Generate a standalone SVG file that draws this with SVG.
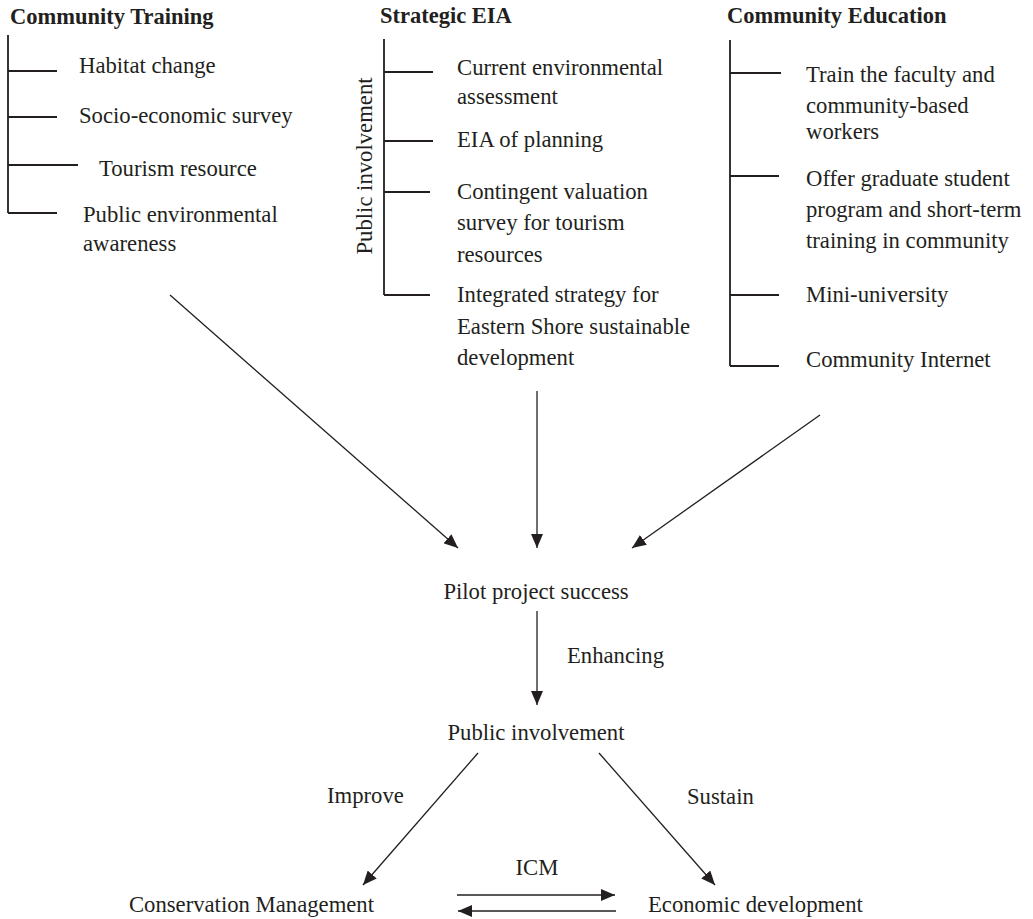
<svg xmlns="http://www.w3.org/2000/svg" width="1033" height="919" viewBox="0 0 1033 919">
<defs>
<style>
text{font-family:"Liberation Serif","Times New Roman",serif;font-size:22.7px;fill:#231f20}
.title{font-weight:bold;font-size:22.5px}
.tree{stroke:#231f20;stroke-width:1.8;fill:none}
.conn{stroke:#231f20;stroke-width:1.3;fill:none;marker-end:url(#arrow)}
.mid{text-anchor:middle}
</style>
<marker id="arrow" markerUnits="userSpaceOnUse" markerWidth="15" markerHeight="12" refX="14" refY="6" orient="auto" viewBox="0 0 15 12">
<path d="M0,0 L14,6 L0,12 z" fill="#231f20"/>
</marker>
</defs>
<rect width="1033" height="919" fill="#ffffff"/>

<g id="community-training">
<text class="title" x="10" y="24">Community Training</text>
<path class="tree" d="M8,35 V213 M8,71 H57 M8,117 H57 M8,165 H78 M8,213 H57"/>
<text x="79" y="73">Habitat change</text>
<text x="79" y="123">Socio-economic survey</text>
<text x="99" y="176">Tourism resource</text>
<text x="83" y="222">Public environmental</text>
<text x="83" y="251">awareness</text>
</g>

<g id="strategic-eia">
<text class="title" x="380" y="23">Strategic EIA</text>
<text class="mid" transform="translate(372,166) rotate(-90)">Public involvement</text>
<path class="tree" d="M384,39 V295 M384,72 H433 M384,141 H433 M384,192 H430 M384,295 H430"/>
<text x="457" y="75">Current environmental</text>
<text x="457" y="104">assessment</text>
<text x="457" y="147">EIA of planning</text>
<text x="457" y="199">Contingent valuation</text>
<text x="457" y="230">survey for tourism</text>
<text x="457" y="262">resources</text>
<text x="457" y="302">Integrated strategy for</text>
<text x="457" y="334">Eastern Shore sustainable</text>
<text x="457" y="365">development</text>
</g>

<g id="community-education">
<text class="title" x="727" y="23">Community Education</text>
<path class="tree" d="M730,40 V366 M730,73 H781 M730,176 H779 M730,295 H779 M730,366 H779"/>
<text x="806" y="82">Train the faculty and</text>
<text x="806" y="113">community-based</text>
<text x="806" y="139">workers</text>
<text x="806" y="186">Offer graduate student</text>
<text x="806" y="217">program and short-term</text>
<text x="806" y="248">training in community</text>
<text x="806" y="302">Mini-university</text>
<text x="806" y="367">Community Internet</text>
</g>

<g id="pilot-project-success">
<text class="mid" x="536" y="599">Pilot project success</text>
</g>

<g id="public-involvement">
<text class="mid" x="536" y="740">Public involvement</text>
</g>

<g id="conservation-management">
<text x="374" y="912" text-anchor="end">Conservation Management</text>
</g>

<g id="economic-development">
<text x="648" y="912">Economic development</text>
</g>

<g id="connectors">
<line class="conn" x1="170" y1="295" x2="458" y2="548"/>
<line class="conn" x1="537" y1="391" x2="537" y2="548"/>
<line class="conn" x1="820" y1="415" x2="632" y2="548"/>
<line class="conn" x1="537" y1="611" x2="537" y2="705"/>
<line class="conn" x1="478" y1="753" x2="363" y2="885"/>
<line class="conn" x1="599" y1="753" x2="715" y2="885"/>
<line class="conn" x1="457" y1="895" x2="615" y2="895"/>
<line class="conn" x1="616" y1="911" x2="458" y2="911"/>
<text x="567" y="663">Enhancing</text>
<text x="327" y="803">Improve</text>
<text x="687" y="804">Sustain</text>
<text class="mid" x="537" y="875">ICM</text>
</g>
</svg>
